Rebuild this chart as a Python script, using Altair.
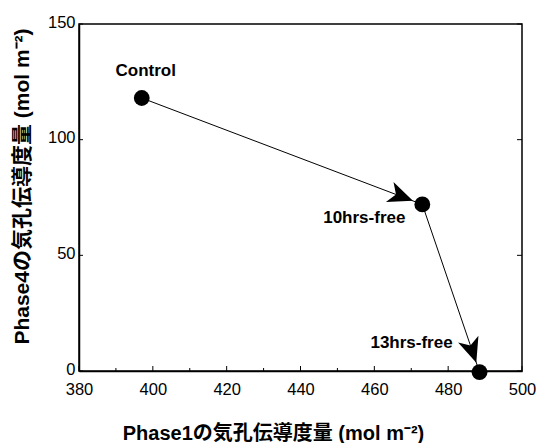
import math
import altair as alt
import pandas as pd

# Stomatal conductance: Phase1 vs Phase4 for each treatment
names = ["Control", "10hrs-free", "13hrs-free"]
phase1 = [397, 473, 488.5]
phase4 = [118, 72, -0.5]
steps = [0, 1, 2]

x_ticks_major = [380, 400, 420, 440, 460, 480, 500]
x_ticks_minor = [390, 410, 430, 450, 470, 490]
y_ticks = [0, 50, 100, 150]

W, H = 443, 347
X_DOM, Y_DOM = [380, 500], [0, 150]

df = pd.DataFrame({"name": names, "phase1": phase1, "phase4": phase4, "step": steps})

# Direction of each arrow in screen space (degrees clockwise from +x)
angles = [0.0]
for i in range(1, len(df)):
    ax = (phase1[i] - phase1[i - 1]) * W / (X_DOM[1] - X_DOM[0])
    ay = -(phase4[i] - phase4[i - 1]) * H / (Y_DOM[1] - Y_DOM[0])
    angles.append(math.degrees(math.atan2(ay, ax)) % 360)
df["angle"] = angles
arrows = df[df["step"] > 0]

FONT = "Liberation Sans, Arial, Noto Sans CJK JP"
TITLE_FONT = "Liberation Sans, Noto Sans CJK JP"

xs = alt.Scale(domain=X_DOM, nice=False, zero=False)
ys = alt.Scale(domain=Y_DOM, nice=False, zero=False)

x_enc = alt.X(
    "phase1:Q", scale=xs,
    axis=alt.Axis(
        title="Phase1の気孔伝導度量 (mol m⁻²)", values=x_ticks_major, ticks=False,
        grid=False, domainColor="black", domainWidth=1.5, labelPadding=10, labelFlush=False,
        labelFontSize=16.5, labelFont=FONT, labelColor="black",
        titleFont=TITLE_FONT, titleFontSize=20, titleFontWeight="bold", titleColor="black",
        titleX=194, titleY=62, titleBaseline="middle", titleAlign="center",
    ),
)
y_enc = alt.Y(
    "phase4:Q", scale=ys,
    axis=alt.Axis(
        title="Phase4の気孔伝導度量 (mol m⁻²)", values=y_ticks, ticks=False,
        grid=False, domainColor="black", domainWidth=1.5, labelPadding=4, labelFlush=False,
        labelFontSize=16.5, labelFont=FONT, labelColor="black", labelOffset=-2,
        titleFont=TITLE_FONT, titleFontSize=21, titleFontWeight="bold", titleColor="black",
        titleX=-57, titleY=162, titleAngle=270, titleBaseline="middle", titleAlign="center",
    ),
)

base = alt.Chart(df)

line = base.mark_line(color="black", strokeWidth=1).encode(
    x=x_enc, y=y_enc, order="step:Q"
)

points = base.mark_circle(color="black", opacity=1, size=250).encode(
    x=alt.X("phase1:Q", scale=xs), y=alt.Y("phase4:Q", scale=ys)
)

# barbed arrowhead pointing along +x, tip offset back from the point centre
ARROW = "M-0.75,0 L-2.6,-0.8 L-2.1,0 L-2.6,0.8 Z"
heads = alt.Chart(arrows).mark_point(
    shape=ARROW, filled=True, color="black", opacity=1, size=720, strokeWidth=0
).encode(
    x=alt.X("phase1:Q", scale=xs), y=alt.Y("phase4:Q", scale=ys),
    angle=alt.Angle("angle:Q", scale=None),
)

label_offsets = {"Control": (4, -27), "10hrs-free": (-58, 14), "13hrs-free": (-68, -29)}
labels = []
for nm, (ddx, ddy) in label_offsets.items():
    labels.append(
        base.transform_filter(alt.datum.name == nm).mark_text(
            font=FONT, fontSize=17, fontWeight="bold", color="black", dx=ddx, dy=ddy
        ).encode(x=alt.X("phase1:Q", scale=xs), y=alt.Y("phase4:Q", scale=ys), text="name:N")
    )

# inward tick marks on the frame
major = alt.Chart(pd.DataFrame({"v": x_ticks_major})).mark_rule(color="black", strokeWidth=1).encode(
    x=alt.X("v:Q", scale=xs), y=alt.value(H), y2=alt.value(H - 5)
)
minor = alt.Chart(pd.DataFrame({"v": x_ticks_minor})).mark_rule(color="black", strokeWidth=1).encode(
    x=alt.X("v:Q", scale=xs), y=alt.value(H), y2=alt.value(H - 3)
)
left_ticks = alt.Chart(pd.DataFrame({"v": y_ticks})).mark_rule(color="black", strokeWidth=1).encode(
    y=alt.Y("v:Q", scale=ys), x=alt.value(0), x2=alt.value(4)
)
right_ticks = alt.Chart(pd.DataFrame({"v": y_ticks})).mark_rule(color="black", strokeWidth=1).encode(
    y=alt.Y("v:Q", scale=ys), x=alt.value(W), x2=alt.value(W - 5)
)

chart = alt.layer(
    line, major, minor, left_ticks, right_ticks, points, heads, *labels
).properties(
    width=W, height=H,
    autosize=alt.AutoSizeParams(type="none"),
    padding={"left": 79, "top": 24, "right": 14, "bottom": 72},
    background="white",
).configure_view(stroke="black", strokeWidth=1.5)

chart.save("out.html", embed_options={"renderer": "svg", "actions": False})
